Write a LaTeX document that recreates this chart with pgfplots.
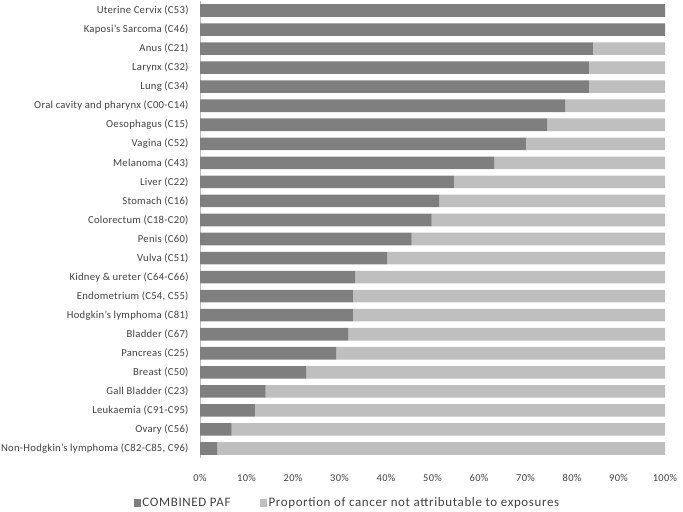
\documentclass[border=0pt]{standalone}
\usepackage{pgfplots}
\pgfplotsset{compat=1.18}
\usepackage{fontspec}
\setmainfont{Carlito}
\definecolor{darkbar}{HTML}{7F7F80}
\definecolor{lightbar}{HTML}{BFBFC0}
\definecolor{txt}{HTML}{404040}
\definecolor{axisc}{HTML}{BFBFBF}
\begin{document}
\begin{tikzpicture}[x=1bp,y=1bp]
\path[use as bounding box] (0,0) rectangle (683,512);
\begin{axis}[
  at={(200bp,54bp)}, anchor=south west,
  scale only axis, width=465bp, height=457bp,
  xbar stacked, bar width=12.6bp,
  xmin=0, xmax=100, ymin=-0.5, ymax=23.5, y dir=reverse,
  axis lines*=left,
  x axis line style={draw=none},
  y axis line style={draw=axisc, line width=0.8pt},
  major tick length=0pt,
  xtick={0,10,...,100},
  xticklabel={\pgfmathprintnumber{\tick}\%},
  ytick={0,...,23},
  yticklabels={Uterine Cervix (C53),Kaposi's Sarcoma (C46),Anus (C21),Larynx (C32),Lung (C34),Oral cavity and pharynx (C00-C14),Oesophagus (C15),Vagina (C52),Melanoma (C43),Liver (C22),Stomach (C16),Colorectum (C18-C20),Penis (C60),Vulva (C51),Kidney \& ureter (C64-C66),Endometrium (C54{,} C55),Hodgkin's lymphoma (C81),Bladder (C67),Pancreas (C25),Breast (C50),Gall Bladder (C23),Leukaemia (C91-C95),Ovary (C56),{Non-Hodgkin's lymphoma (C82-C85, C96)}},
  yticklabel style={font=\fontsize{10.7}{13}\selectfont\addfontfeature{LetterSpace=2.5}, text=txt, xshift=-8bp},
  xticklabel style={font=\fontsize{10.5}{12}\selectfont\addfontfeature{LetterSpace=3}, text=txt, yshift=-13bp},
  /pgf/number format/assume math mode=true,
  legend style={at={(-0.142,-0.0985)}, anchor=west, draw=none, fill=none, inner xsep=0pt,
    font=\fontsize{13}{15}\selectfont\addfontfeature{LetterSpace=5}, text=txt,
    nodes={inner xsep=1.8bp},
    /tikz/every even column/.append style={column sep=28bp}},
  legend columns=2,
  legend image code/.code={\fill[#1] (0bp,-3.6bp) rectangle (6.5bp,3.6bp);},
]
\addplot[fill=darkbar, draw=none] coordinates {
(100,0) (100,1) (84.5,2) (83.6,3) (83.6,4) (78.5,5) (74.7,6) (70.1,7) (63.3,8) (54.6,9) (51.5,10) (49.8,11) (45.5,12) (40.3,13) (33.4,14) (32.9,15) (32.9,16) (31.9,17) (29.3,18) (22.8,19) (14.1,20) (11.8,21) (6.8,22) (3.7,23)};
\addlegendentry{COMBINED PAF}
\addplot[fill=lightbar, draw=none] coordinates {
(0,0) (0,1) (15.5,2) (16.4,3) (16.4,4) (21.5,5) (25.3,6) (29.9,7) (36.7,8) (45.4,9) (48.5,10) (50.2,11) (54.5,12) (59.7,13) (66.6,14) (67.1,15) (67.1,16) (68.1,17) (70.7,18) (77.2,19) (85.9,20) (88.2,21) (93.2,22) (96.3,23)};
\addlegendentry{Proportion of cancer not attributable to exposures}
\end{axis}
\end{tikzpicture}
\end{document}
